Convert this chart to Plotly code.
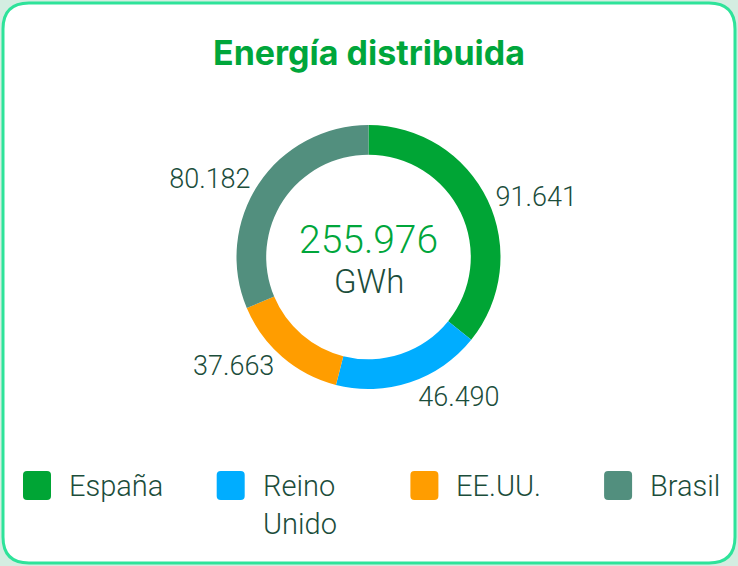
import plotly.graph_objects as go

# ---- data ----
countries = ["España", "Reino Unido", "EE.UU.", "Brasil"]
legend_labels = ["España", "Reino<br>Unido", "EE.UU.", "Brasil"]
energy_gwh = [91641, 46490, 37663, 80182]
colors = ["#00a535", "#00adff", "#ff9d00", "#528f7e"]
title_text = "Energía distribuida"
unit_text = "GWh"

W, H = 738, 566
TEXT_DARK = "#1b4d3b"
GREEN = "#00a63b"
FONT = "Roboto"

def px_x(v):
    return v / W

def px_y(v):
    return 1 - v / H

def rounded_rect(x0, y0, x1, y1, r):
    # pixel coords (top-left origin) -> paper path
    X = lambda v: f"{px_x(v):.5f}"
    Y = lambda v: f"{px_y(v):.5f}"
    return (f"M {X(x0 + r)},{Y(y0)} L {X(x1 - r)},{Y(y0)} Q {X(x1)},{Y(y0)} {X(x1)},{Y(y0 + r)} "
            f"L {X(x1)},{Y(y1 - r)} Q {X(x1)},{Y(y1)} {X(x1 - r)},{Y(y1)} "
            f"L {X(x0 + r)},{Y(y1)} Q {X(x0)},{Y(y1)} {X(x0)},{Y(y1 - r)} "
            f"L {X(x0)},{Y(y0 + r)} Q {X(x0)},{Y(y0)} {X(x0 + r)},{Y(y0)} Z")

# pie geometry (pixels)
cx, cy, R = 368.5, 257, 132

fig = go.Figure()
fig.add_trace(go.Pie(
    labels=countries,
    values=energy_gwh,
    marker=dict(colors=colors, line=dict(width=0)),
    hole=0.775,
    sort=False,
    direction="clockwise",
    rotation=0,
    texttemplate="%{value:,}",
    textposition="outside",
    outsidetextfont=dict(family=FONT, size=27, color=TEXT_DARK, weight=300),
    showlegend=False,
    hoverinfo="label+value",
    domain=dict(x=[px_x(cx - R), px_x(cx + R)], y=[px_y(cy + R), px_y(cy - R)]),
))

total = sum(energy_gwh)
total_str = f"{total:,}".replace(",", ".")

shapes = [dict(type="path", xref="paper", yref="paper",
               path=rounded_rect(3, 3, 735, 563, 26),
               fillcolor="white", line=dict(color="#2ee39a", width=3), layer="below")]
annotations = [
    dict(text=total_str, x=px_x(cx), y=px_y(240), xref="paper", yref="paper",
         showarrow=False, xanchor="center", yanchor="middle",
         font=dict(family=FONT, size=39, color=GREEN, weight=300)),
    dict(text=unit_text, x=px_x(cx), y=px_y(281), xref="paper", yref="paper",
         showarrow=False, xanchor="center", yanchor="middle",
         font=dict(family=FONT, size=33, color=TEXT_DARK, weight=300)),
]

# custom legend
step = 193.7
for i, (lab, col) in enumerate(zip(legend_labels, colors)):
    sx = 23 + i * step
    shapes.append(dict(type="path", xref="paper", yref="paper",
                       path=rounded_rect(sx, 471, sx + 28, 500, 4),
                       fillcolor=col, line=dict(width=0)))
    annotations.append(dict(text=lab, x=px_x(sx + 44), y=px_y(467), xref="paper", yref="paper",
                            showarrow=False, xanchor="left", yanchor="top", align="left",
                            font=dict(family=FONT, size=29, color=TEXT_DARK, weight=300)))

fig.update_layout(
    width=W, height=H,
    margin=dict(l=0, r=0, t=0, b=0),
    paper_bgcolor="#d4ede1",
    plot_bgcolor="#d4ede1",
    separators=",.",
    title=dict(text=title_text, x=0.5, xanchor="center", y=px_y(53), yanchor="middle",
               yref="container",
               font=dict(family="Inter", size=34, color=GREEN, weight=700)),
    shapes=shapes,
    annotations=annotations,
)

fig.write_html("out.html", config={"displayModeBar": False},
               post_script="document.body.style.margin='0';document.body.style.overflow='hidden';")
